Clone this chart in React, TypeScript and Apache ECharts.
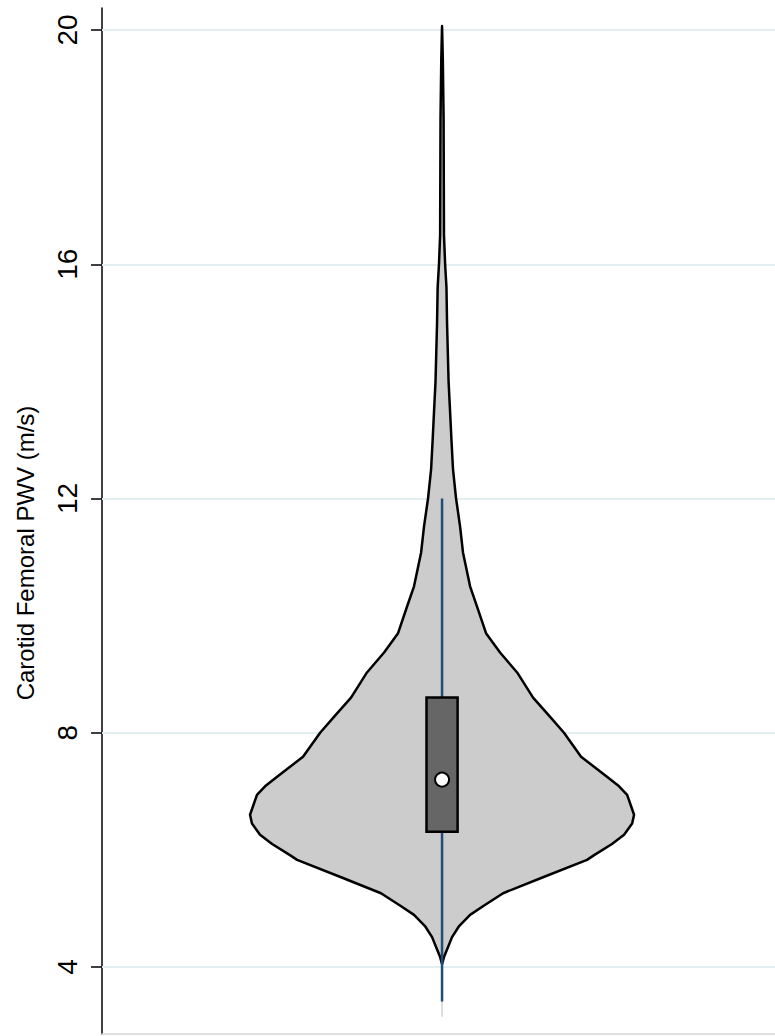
import React, { useEffect, useRef } from "react";
import * as echarts from "echarts";

// Violin outline: value (m/s) and relative density (max = 1)
const VIOLIN_Y = [
  4.05, 4.17, 4.3, 4.51, 4.7, 4.89, 5.05, 5.26, 5.52, 5.83, 5.91, 6.1, 6.26, 6.45, 6.6,
  6.94, 7.1, 7.25, 7.59, 8.0, 8.27, 8.6, 9.03, 9.37, 9.7, 10.1, 10.5, 11.08, 11.52, 12.0,
  12.5, 13.0, 13.47, 14.0, 15.0, 15.6, 16.0, 16.5, 17.5, 18.5, 19.5, 20.07,
];
const VIOLIN_DENSITY = [
  0.0, 0.01, 0.026, 0.052, 0.089, 0.146, 0.219, 0.318, 0.516, 0.755, 0.792, 0.885, 0.948, 0.99, 1.0,
  0.964, 0.917, 0.859, 0.724, 0.635, 0.563, 0.474, 0.391, 0.302, 0.229, 0.188, 0.146, 0.109, 0.094, 0.073,
  0.057, 0.049, 0.042, 0.034, 0.026, 0.023, 0.016, 0.01, 0.009, 0.008, 0.004, 0.0,
];

const MIN_VALUE = 3.15;
const WHISKER_LOW = 3.41;
const WHISKER_HIGH = 12.0;
const Q1 = 6.31;
const Q3 = 8.6;
const MEDIAN = 7.2;

const Y_TICKS = [4, 8, 12, 16, 20];
const Y_TITLE = "Carotid Femoral PWV (m/s)";

const FONT = "Liberation Sans, Arial, Helvetica, sans-serif";
const BOX_HALF = 0.081;

export default function App() {
  const ref = useRef<HTMLDivElement>(null);

  useEffect(() => {
    if (!ref.current) return;
    const chart = echarts.init(ref.current, null, { renderer: "svg" });

    const option: any = {
      animation: false,
      backgroundColor: "#ffffff",
      grid: { left: 102, right: 0, top: 8, bottom: 2, containLabel: false },
      xAxis: {
        type: "value",
        min: -1.771,
        max: 1.734,
        axisLine: { show: true, onZero: false, lineStyle: { color: "#d6d6d6", width: 1.5 } },
        axisTick: { show: false },
        axisLabel: { show: false },
        splitLine: { show: false },
      },
      yAxis: {
        type: "value",
        min: 2.856,
        max: 20.376,
        axisLine: { show: true, onZero: false, lineStyle: { color: "#000", width: 1.5 } },
        axisTick: {
          show: true,
          length: 11,
          customValues: Y_TICKS,
          lineStyle: { color: "#000", width: 1.5 },
        },
        axisLabel: {
          show: true,
          rotate: 90,
          margin: 21,
          customValues: Y_TICKS,
          fontSize: 28,
          fontFamily: FONT,
          color: "#000",
        },
        splitLine: { show: false },
      },
      graphic: [
        {
          type: "text",
          x: 25,
          y: 553,
          rotation: Math.PI / 2,
          style: {
            text: Y_TITLE,
            fontSize: 24,
            fontFamily: FONT,
            fill: "#000",
            align: "center",
            verticalAlign: "middle",
          },
        },
      ],
      series: [
        {
          type: "line",
          data: [],
          z: 1,
          silent: true,
          markLine: {
            z: 1,
            silent: true,
            symbol: "none",
            label: { show: false },
            lineStyle: { color: "#e3eef0", width: 2, type: "solid" },
            data: Y_TICKS.map((v) => ({ yAxis: v })),
          },
        },
        {
          type: "custom",
          z: 10,
          data: [[0, 0]],
          encode: { x: 0, y: 1 },
          renderItem: (_p: any, api: any) => {
            const right = VIOLIN_Y.map((y, i) => api.coord([VIOLIN_DENSITY[i], y]));
            const left = VIOLIN_Y.map((y, i) => api.coord([-VIOLIN_DENSITY[i], y])).reverse();
            return {
              type: "polygon",
              shape: { points: [...right, ...left] },
              style: { fill: "#cccccc", stroke: "#000", lineWidth: 2.5, lineJoin: "round" },
            };
          },
        },
        {
          type: "line",
          z: 11,
          symbol: "none",
          data: [
            [0, MIN_VALUE],
            [0, VIOLIN_Y[0]],
          ],
          lineStyle: { color: "#bbbbbb", width: 1 },
        },
        {
          type: "line",
          z: 12,
          symbol: "none",
          data: [
            [0, WHISKER_LOW],
            [0, WHISKER_HIGH],
          ],
          lineStyle: { color: "#1f4e79", width: 2.5 },
        },
        {
          type: "custom",
          z: 13,
          data: [[0, MEDIAN]],
          encode: { x: 0, y: 1 },
          renderItem: (_p: any, api: any) => {
            const p1 = api.coord([-BOX_HALF, Q3]);
            const p2 = api.coord([BOX_HALF, Q1]);
            return {
              type: "rect",
              shape: { x: p1[0], y: p1[1], width: p2[0] - p1[0], height: p2[1] - p1[1] },
              style: { fill: "#666666", stroke: "#000", lineWidth: 2.5 },
            };
          },
        },
        {
          type: "scatter",
          z: 14,
          symbol: "circle",
          symbolSize: 14,
          data: [[0, MEDIAN]],
          itemStyle: { color: "#ffffff", opacity: 1, borderColor: "#000", borderWidth: 2 },
        },
      ],
    };

    chart.setOption(option);
    return () => chart.dispose();
  }, []);

  return (
    <div
      ref={ref}
      style={{ position: "absolute", left: 0, top: 0, width: 775, height: 1036 }}
    />
  );
}
